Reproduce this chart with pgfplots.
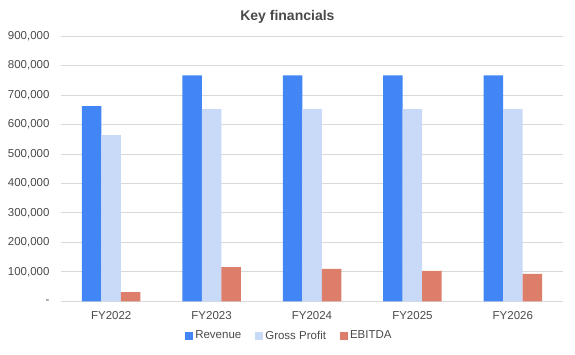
\documentclass[border=0pt]{standalone}
\usepackage{pgfplots}
\pgfplotsset{compat=1.18}
\usepackage{fontspec}
\setmainfont{Liberation Sans}
\definecolor{rev}{HTML}{4285F4}
\definecolor{gp}{HTML}{C9DAF8}
\definecolor{ebitda}{HTML}{DD7E6B}
\definecolor{gridc}{HTML}{D9D9D9}
\definecolor{txt}{HTML}{4A4A4A}
\begin{document}
\begin{tikzpicture}[x=1pt,y=1pt]
\useasboundingbox (0,0) rectangle (575,354);
\begin{axis}[
  at={(61pt,52.7pt)}, anchor=south west,
  scale only axis, width=502pt, height=265.3pt,
  ybar=0pt, bar width=19.5pt,
  xmin=-0.5, xmax=4.5, ymin=0, ymax=900000,
  xtick={0,1,2,3,4},
  xticklabels={FY2022,FY2023,FY2024,FY2025,FY2026},
  ytick={0,100000,200000,300000,400000,500000,600000,700000,800000,900000},
  yticklabels={-,{100,000},{200,000},{300,000},{400,000},{500,000},{600,000},{700,000},{800,000},{900,000}},
  scaled y ticks=false,
  axis x line*=bottom, axis y line*=left,
  x axis line style={draw=gridc, line width=0.8pt, -},
  y axis line style={draw=none},
  major tick length=0pt,
  ymajorgrids, grid style={draw=gridc, line width=0.8pt},
  ticklabel style={font=\fontsize{11.5}{13}\selectfont, text=txt},
  yticklabel style={xshift=-8pt},
  xticklabel style={yshift=-7pt},
  title={Key financials},
  title style={at={(0.451,1.049)}, anchor=center, font=\bfseries\fontsize{14}{16}\selectfont, text=txt},
  legend columns=-1,
  legend style={at={(0.455,-0.13)}, anchor=center, draw=none, font=\fontsize{11.5}{13}\selectfont, text=txt,
    /tikz/every even column/.append style={column sep=12pt}},
  legend image code/.code={\fill (0pt,-4pt) rectangle (8pt,4pt);},
  enlarge x limits=false,
]
\addplot[fill=rev, draw=none] coordinates {(0,662500) (1,766700) (2,766700) (3,766700) (4,766700)};
\addplot[fill=gp, draw=none] coordinates {(0,564000) (1,652000) (2,652000) (3,652000) (4,652000)};
\addplot[fill=ebitda, draw=none] coordinates {(0,31500) (1,116000) (2,110000) (3,103000) (4,93000)};
\legend{Revenue,Gross Profit,EBITDA}
\end{axis}
\end{tikzpicture}
\end{document}
